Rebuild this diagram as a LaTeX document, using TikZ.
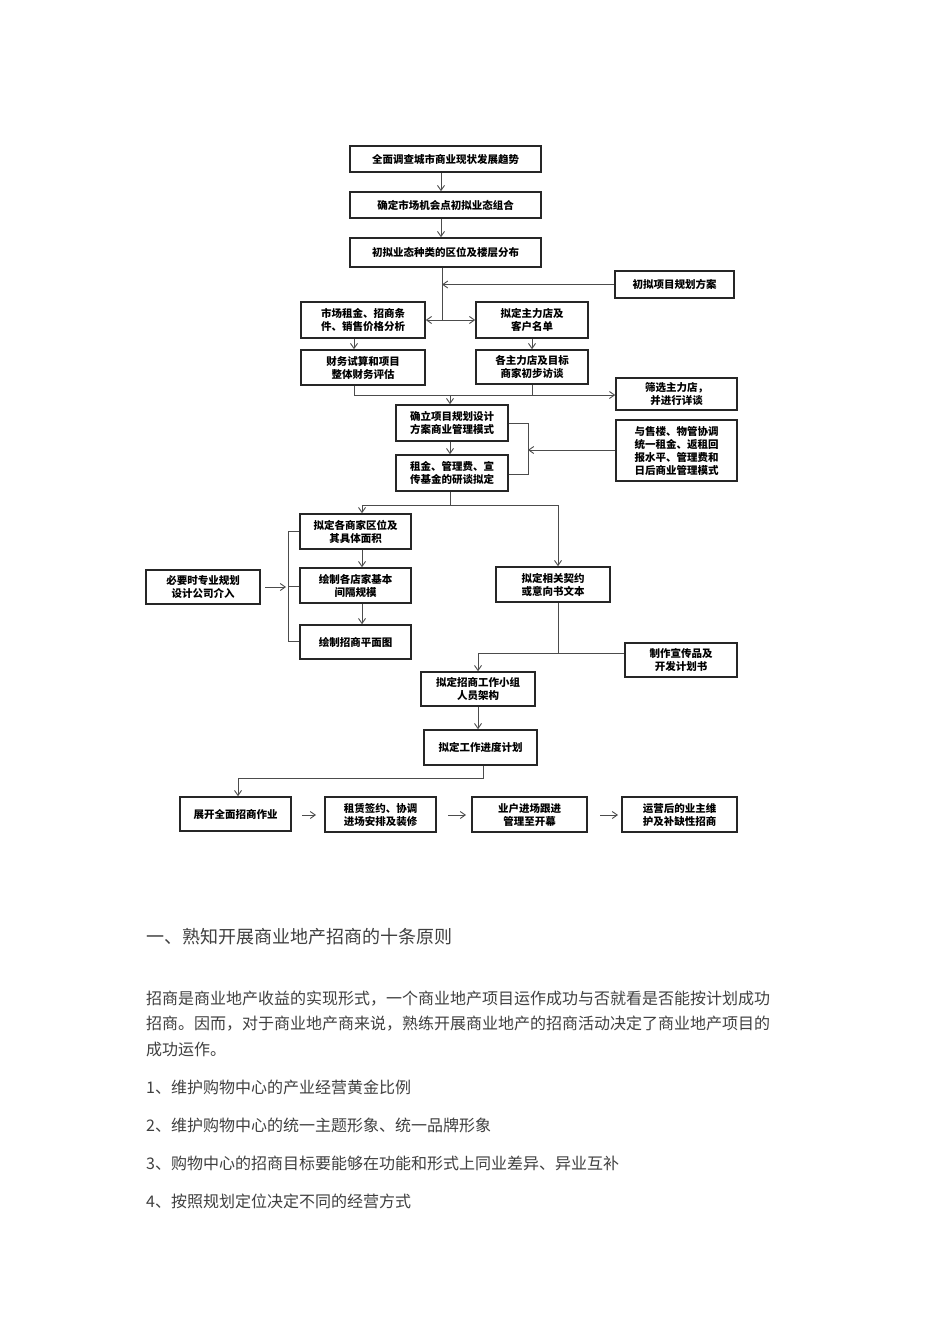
\documentclass[tikz,border=0pt]{standalone}
\usepackage{fontspec}
\setmainfont{Noto Sans CJK SC}
\newfontfamily\cjkb[BoldFont={Noto Sans CJK SC Bold}]{Noto Sans CJK SC}
\usetikzlibrary{arrows.meta}
\begin{document}
\begin{tikzpicture}[x=1pt,y=-1pt,
  bx/.style={draw=black!85,line width=1.6pt,align=center,font=\fontsize{10.5}{13}\selectfont\bfseries,inner sep=0pt},
  ln/.style={draw=black!70,line width=0.9pt},
  ar/.style={ln,-{Straight Barb[length=5pt,width=7pt]}},
  body/.style={anchor=west,inner sep=0pt,text=black!75,font=\fontsize{16}{18}\selectfont}]
\useasboundingbox[fill=white] (0,0) rectangle (950,1344);
\newcommand\bxx[6]{\node[bx,minimum width=#4-#2,minimum height=#5-#3] (#1) at ({(#2+#4)/2},{(#3+#5)/2}) {#6};}
\bxx{b1}{350}{146}{541}{172}{全面调查城市商业现状发展趋势}
\bxx{b2}{350}{192}{541}{218}{确定市场机会点初拟业态组合}
\bxx{b3}{350}{238}{541}{267}{初拟业态种类的区位及楼层分布}
\bxx{r1}{615}{271}{734}{298}{初拟项目规划方案}
\bxx{l1}{301}{302}{425}{338}{市场租金、招商条\\件、销售价格分析}
\bxx{m1}{476}{302}{588}{338}{拟定主力店及\\客户名单}
\bxx{l2}{301}{350}{425}{385}{财务试算和项目\\整体财务评估}
\bxx{m2}{476}{350}{588}{384}{各主力店及目标\\商家初步访谈}
\bxx{r2}{616}{378}{737}{410}{筛选主力店，\\并进行详谈}
\bxx{c1}{396}{405}{508}{441}{确立项目规划设计\\方案商业管理模式}
\bxx{r3}{616}{420}{737}{481}{与售楼、物管协调\\统一租金、返租回\\报水平、管理费和\\日后商业管理模式}
\bxx{c2}{396}{455}{508}{491}{租金、管理费、宣\\传基金的研谈拟定}
\bxx{d1}{300}{514}{411}{549}{拟定各商家区位及\\其具体面积}
\bxx{d2}{300}{568}{411}{603}{绘制各店家基本\\间隔规模}
\bxx{d3}{300}{625}{411}{659}{绘制招商平面图}
\bxx{p}{146}{570}{260}{604}{必要时专业规划\\设计公司介入}
\bxx{e1}{496}{567}{610}{602}{拟定相关契约\\或意向书文本}
\bxx{f}{625}{643}{737}{677}{制作宣传品及\\开发计划书}
\bxx{g1}{421}{672}{535}{706}{拟定招商工作小组\\人员架构}
\bxx{g2}{424}{730}{537}{765}{拟定工作进度计划}
\bxx{h1}{180}{797}{291}{831}{展开全面招商作业}
\bxx{h2}{325}{797}{436}{832}{租赁签约、协调\\进场安排及装修}
\bxx{h3}{472}{797}{587}{832}{业户进场跟进\\管理至开幕}
\bxx{h4}{622}{797}{737}{832}{运营后的业主维\\护及补缺性招商}
% top chain
\draw[ar] (b1.south -| 441,0) -- (b2.north -| 441,0);
\draw[ar] (b2.south -| 441,0) -- (b3.north -| 441,0);
\draw[ln] (b3.south -| 442,0) -- (442,320);
\draw[ar] (r1.west) -- (442,284.5);
\draw[ar] (442,320) -- (l1.east |- 0,320);
\draw[ar] (442,320) -- (m1.west |- 0,320);
\draw[ar] (l1.south -| 354,0) -- (l2.north -| 354,0);
\draw[ar] (m1.south -| 532,0) -- (m2.north -| 532,0);
\coordinate (j1) at (354,395);
\draw[ln] (l2.south -| 354,0) -- (j1);
\draw[ar] (j1) -- (r2.west |- j1);
\draw[ln] (m2.south -| 532,0) -- (532,395);
\draw[ar] (450,395) -- (c1.north -| 450,0);
\draw[ar] (c1.south -| 450,0) -- (c2.north -| 450,0);
\draw[ln] (c1.east |- 0,423) -- (528,423) -- (528,474) -- (c2.east |- 0,474);
\draw[ar] (r3.west |- 0,450) -- (528,450);
% middle split
\draw[ln] (c2.south -| 450,0) -- (450,505);
\draw[ln] (362,505) -- (558,505);
\draw[ar] (362,505) -- (d1.north -| 362,0);
\draw[ar] (558,505) -- (e1.north -| 558,0);
\draw[ar] (d1.south -| 362,0) -- (d2.north -| 362,0);
\draw[ar] (d2.south -| 362,0) -- (d3.north -| 362,0);
\draw[ln] (d1.west |- 0,531) -- (288,531) -- (288,641) -- (d3.west |- 0,641);
\draw[ln] (288,586) -- (d2.west |- 0,586);
\draw[ar] (265,587) -- (286,587);
\draw[ln] (e1.south -| 558,0) -- (558,653);
\draw[ln] (f.west |- 0,653) -- (478,653);
\draw[ar] (478,653) -- (g1.north -| 478,0);
\draw[ar] (g1.south -| 478,0) -- (g2.north -| 478,0);
\draw[ln] (g2.south -| 483,0) -- (483,778) -- (238,778);
\draw[ar] (238,778) -- (h1.north -| 238,0);
\draw[ar] (302,815) -- (316,815);
\draw[ar] (448,815) -- (466,815);
\draw[ar] (600,815) -- (618,815);
% text
\node[body,font=\fontsize{18}{20}\selectfont] (t0) at (146,937) {一、熟知开展商业地产招商的十条原则};
\node[body] (t1) at (146,999) {招商是商业地产收益的实现形式，一个商业地产项目运作成功与否就看是否能按计划成功};
\node[body] (t2) at (146,1024) {招商。因而，对于商业地产商来说，熟练开展商业地产的招商活动决定了商业地产项目的};
\node[body] (t3) at (146,1049) {成功运作。};
\node[body] (t4) at (146,1087) {1、维护购物中心的产业经营黄金比例};
\node[body] (t5) at (146,1125) {2、维护购物中心的统一主题形象、统一品牌形象};
\node[body] (t6) at (146,1163) {3、购物中心的招商目标要能够在功能和形式上同业差异、异业互补};
\node[body] (t7) at (146,1201) {4、按照规划定位决定不同的经营方式};
\end{tikzpicture}
\end{document}
